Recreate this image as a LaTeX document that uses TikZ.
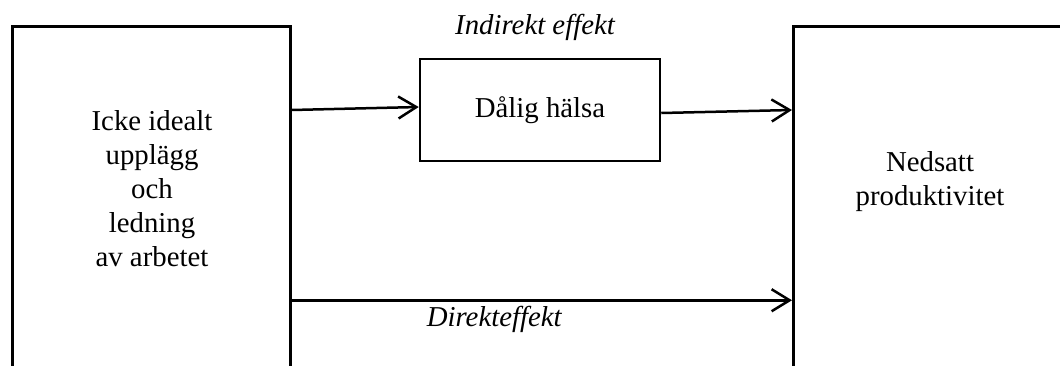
\documentclass[tikz,border=0pt]{standalone}
\usepackage{fontspec}
\setmainfont{Liberation Serif}
\usetikzlibrary{arrows.meta,positioning}

\newcommand\boxfont{\fontsize{28.8}{34}\selectfont}

\begin{document}
\begin{tikzpicture}[x=1pt,y=-1pt,line width=2.5pt,
  >={Straight Barb[length=18pt,width=22pt]},
  every node/.style={font=\boxfont, inner sep=0pt}]
  \useasboundingbox (0,0) rectangle (1060,365);
  \clip (0,0) rectangle (1060,365);
  \path
  (11,25) node[draw, anchor=north west, minimum width=278pt, minimum height=350pt] (ORG) {}
  (540,110) node[draw, minimum width=240pt, minimum height=102pt] (HEALTH) {Dålig hälsa}
  (792,25) node[draw, anchor=north west, minimum width=276pt, minimum height=350pt] (PROD) {};
  \path (152,189) node[align=center] (orgtext) {Icke idealt\\upplägg\\och\\ledning\\av arbetet};
  \path (930,182) node[align=center] (prodtext) {Nedsatt\\produktivitet};
  \path (535,34) node[anchor=base, font=\boxfont\itshape] (indirect) {Indirekt effekt};

  \draw[->] (ORG.east |- HEALTH.west) -- ([yshift=3pt]HEALTH.west);
  \draw[->] ([yshift=-3pt]HEALTH.east) -- (PROD.west |- HEALTH.east);
  \draw[->] ([yshift=-99pt]ORG.east) -- node[pos=.405, anchor=base, yshift=-26pt, font=\boxfont\itshape] (direct) {Direkteffekt} ([yshift=-99pt]ORG.east -| PROD.west);
\end{tikzpicture}
\end{document}
